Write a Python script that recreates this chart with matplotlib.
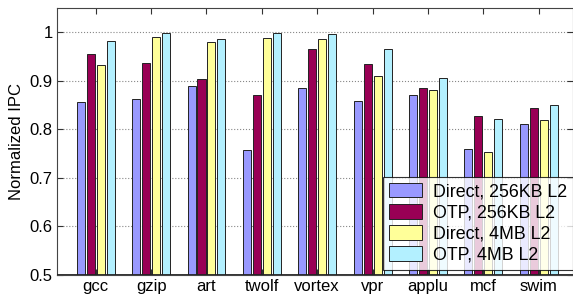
import numpy as np
import matplotlib
matplotlib.use("Agg")
import matplotlib.pyplot as plt

plt.rcParams['font.family'] = ['Liberation Sans', 'DejaVu Sans']

# benchmarks and normalized IPC per configuration
benchmarks = ["gcc", "gzip", "art", "twolf", "vortex", "vpr", "applu", "mcf", "swim"]
direct_256kb = [0.857, 0.862, 0.890, 0.758, 0.885, 0.859, 0.871, 0.760, 0.811]
otp_256kb = [0.956, 0.937, 0.904, 0.871, 0.966, 0.934, 0.886, 0.828, 0.844]
direct_4mb = [0.932, 0.991, 0.980, 0.988, 0.986, 0.909, 0.882, 0.754, 0.820]
otp_4mb = [0.983, 0.999, 0.987, 0.999, 0.997, 0.966, 0.905, 0.821, 0.850]

series = [direct_256kb, otp_256kb, direct_4mb, otp_4mb]
labels = ["Direct, 256KB L2", "OTP, 256KB L2", "Direct, 4MB L2", "OTP, 4MB L2"]
colors = ["#9999ff", "#990055", "#ffff99", "#b3f0ff"]

fig = plt.figure(figsize=(5.73, 3.0), dpi=100)
ax = fig.add_axes([57/573, 25/300, 516/573, 267/300])

x = np.arange(1, len(benchmarks) + 1)
step = 0.18
width = 0.145
for i, vals in enumerate(series):
    ax.bar(x + (i - 1.5) * step, np.array(vals) - 0.5, width, bottom=0.5,
           color=colors[i], edgecolor="#222222", linewidth=0.7, label=labels[i], zorder=3)

ax.set_xlim(0.3, 9.62)
ax.set_ylim(0.5, 1.05)
ax.set_xticks(x)
ax.set_xticklabels(benchmarks)
ax.set_yticks([0.5, 0.6, 0.7, 0.8, 0.9, 1.0])
ax.set_yticklabels(["0.5", "0.6", "0.7", "0.8", "0.9", "1"])
ax.tick_params(direction="in", top=True, right=True, labelsize=12, length=4,
               color="#333333", pad=3)
ax.grid(axis="y", linestyle=":", color="#888888", linewidth=0.8, zorder=0)
ax.axhline(0.5, color="#222222", linewidth=2, zorder=4)
for s in ax.spines.values():
    s.set_color("#444444")
ax.set_ylabel("Normalized IPC", fontsize=12, labelpad=4)

leg = ax.legend(loc="lower right", bbox_to_anchor=(1.0, 0.02), fontsize=12.8,
                frameon=True, fancybox=False, borderaxespad=0.0,
                handlelength=1.85, handleheight=0.9, labelspacing=0.2,
                borderpad=0.35, handletextpad=0.6)
leg.get_frame().set_edgecolor("#000000")
leg.get_frame().set_linewidth(0.8)
leg.set_zorder(5)

fig.savefig("out.png", dpi=100)
